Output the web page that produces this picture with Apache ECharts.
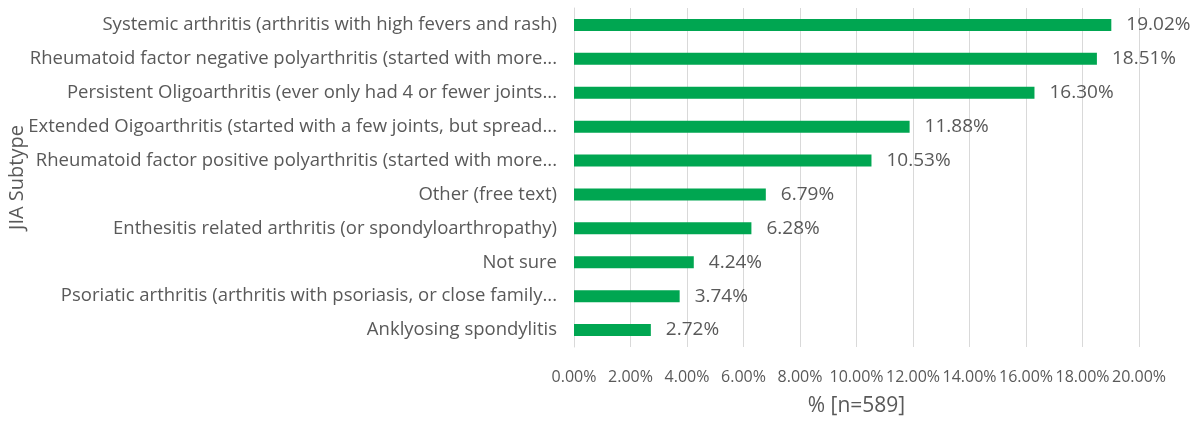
<!DOCTYPE html>
<html lang="en">
<head>
    <meta charset="UTF-8" />
    <title>JIA Subtype</title>
</head>
<body style="margin:0">
<div id="main" style="width:1196px;height:421px"></div>
<script src="https://cdn.jsdelivr.net/npm/echarts@6/dist/echarts.min.js"></script>
<script>
  // 类别（从上到下）
  var subtypes = [
    "Systemic arthritis (arthritis with high fevers and rash)",
    "Rheumatoid factor negative polyarthritis (started with more...",
    "Persistent Oligoarthritis (ever only had 4 or fewer joints...",
    "Extended Oigoarthritis (started with a few joints, but spread...",
    "Rheumatoid factor positive polyarthritis (started with more...",
    "Other (free text)",
    "Enthesitis related arthritis (or spondyloarthropathy)",
    "Not sure",
    "Psoriatic arthritis (arthritis with psoriasis, or close family...",
    "Anklyosing spondylitis"
  ];
  // 百分比
  var percents = [19.02, 18.51, 16.30, 11.88, 10.53, 6.79, 6.28, 4.24, 3.74, 2.72];

  var textColor = "#595959";
  var font = "Open Sans";

  var myChart = echarts.init(document.getElementById("main"));
  var option = {
    animation: false,
    grid: { left: 574, right: 57, top: 8, bottom: 74, outerBoundsMode: "none", containLabel: false },
    xAxis: {
      type: "value",
      min: 0,
      max: 20,
      interval: 2,
      name: "% [n=589]",
      nameLocation: "middle",
      nameGap: 49,
      nameMoveOverlap: false,
      nameTextStyle: { color: textColor, fontSize: 21, fontFamily: font },
      axisLine: { show: false },
      axisTick: { show: false },
      axisLabel: {
        color: textColor,
        fontSize: 16,
        fontFamily: font,
        margin: 22,
        showMinLabel: true,
        showMaxLabel: true,
        hideOverlap: false,
        formatter: function (v) { return v.toFixed(2) + "%"; }
      },
      splitLine: { lineStyle: { color: "#d9d9d9", width: 1 } }
    },
    yAxis: {
      type: "category",
      data: subtypes,
      inverse: true,
      name: "JIA Subtype",
      nameLocation: "middle",
      nameGap: 547,
      nameMoveOverlap: false,
      nameTextStyle: { color: textColor, fontSize: 20, fontFamily: font },
      axisLine: { show: true, lineStyle: { color: "#d9d9d9" } },
      axisTick: { show: false },
      axisLabel: { color: textColor, fontSize: 18.5, fontFamily: font, margin: 17 }
    },
    series: [
      {
        type: "bar",
        data: percents,
        barWidth: 12,
        itemStyle: { color: "#00a651" },
        label: {
          show: true,
          position: "right",
          distance: 15,
          color: textColor,
          fontSize: 19,
          fontFamily: font,
          formatter: function (p) { return p.value.toFixed(2) + "%"; }
        }
      }
    ]
  };
  myChart.setOption(option);
</script>
</body>
</html>
